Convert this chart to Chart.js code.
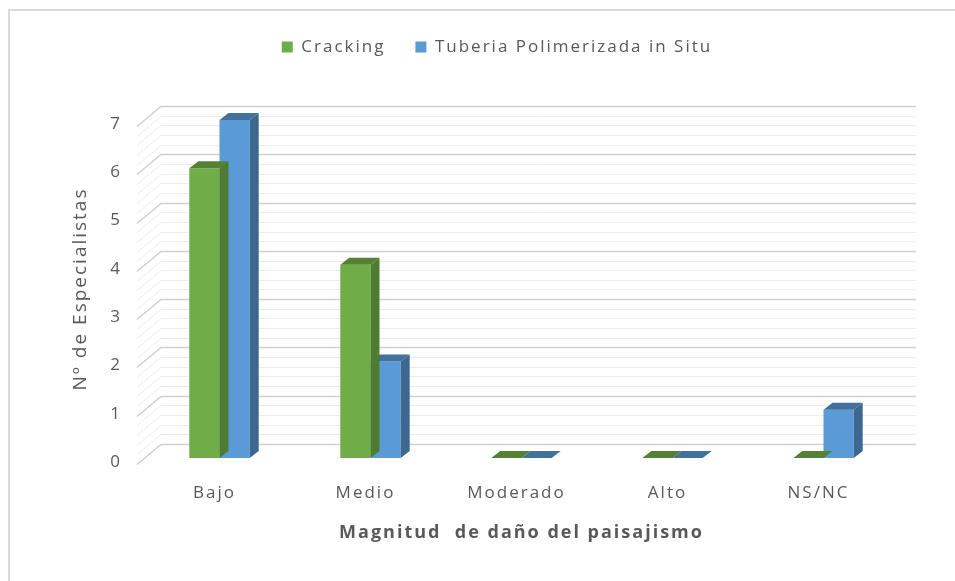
<!DOCTYPE html>
<html>
<head>
<meta charset="utf-8">
<script src="https://cdn.jsdelivr.net/npm/chart.js@4.4.1/dist/chart.umd.min.js"></script>
<style>
  html, body { margin: 0; padding: 0; background: #ffffff; }
  #wrap { position: relative; width: 955px; height: 581px; overflow: hidden; }
  #frame { position: absolute; left: 8px; top: 9px; width: 2000px; height: 2000px;
           border-top: 2px solid #d9d9d9; border-left: 2px solid #d9d9d9; }
  canvas { position: absolute; left: 0; top: 0; }
</style>
</head>
<body>
<div id="wrap">
  <div id="frame"></div>
  <canvas id="c" width="955" height="581"></canvas>
</div>
<script>
// ---- data ----
const categories = ['Bajo', 'Medio', 'Moderado', 'Alto', 'NS/NC'];
const crackingValues = [6, 4, 0, 0, 0];
const tuberiaValues = [7, 2, 0, 0, 1];
const seriesNames = ['Cracking', 'Tuberia Polimerizada in Situ'];
const yTicks = [0, 1, 2, 3, 4, 5, 6, 7];
const xAxisTitle = 'Magnitud  de daño del paisajismo';
const yAxisTitle = 'Nº de Especialistas';

// ---- styles ----
const TEXT = '#595959';
const FONT = "'Open Sans', 'Liberation Sans', sans-serif";
const faceColors = [
  { front: '#70AD47', top: '#548235', side: '#4E7C31' },
  { front: '#5B9BD5', top: '#41719C', side: '#3B6791' }
];
const BAR_DX = 9, BAR_DY = -7;     // bar depth
const BACK_DX = 17, BACK_DY = -14; // back wall relative to bar plane
const FRONT_DX = -7, FRONT_DY = 6; // front edge of side wall relative to bar plane

const spacingPlugin = {
  id: 'spacing',
  afterInit(chart) { chart.ctx.letterSpacing = '2px'; }
};

const wallPlugin = {
  id: 'wall3d',
  beforeDatasetsDraw(chart) {
    const { ctx, chartArea } = chart;
    const y = chart.scales.y;
    const left = chartArea.left, right = chartArea.right;
    ctx.save();
    for (let i = 0; i <= 35; i++) {
      const v = i / 5;
      const major = (i % 5 === 0);
      const py = Math.round(y.getPixelForValue(v)) + 0.5;
      ctx.strokeStyle = major ? '#d0d0d0' : '#ececec';
      ctx.lineWidth = major ? 1.5 : 1;
      ctx.beginPath();
      ctx.moveTo(left + FRONT_DX, py + FRONT_DY);
      ctx.lineTo(left + BACK_DX, py + BACK_DY);
      ctx.lineTo(right + BACK_DX, py + BACK_DY);
      ctx.stroke();
    }
    ctx.restore();
  },
  afterDatasetDraw(chart, args) {
    const { ctx } = chart;
    const meta = args.meta;
    const col = faceColors[args.index];
    ctx.save();
    meta.data.forEach(bar => {
      const p = bar.getProps(['x', 'y', 'base', 'width'], true);
      const l = p.x - p.width / 2, r = p.x + p.width / 2;
      const top = Math.min(p.y, p.base), base = Math.max(p.y, p.base);
      ctx.fillStyle = col.top;
      ctx.beginPath();
      ctx.moveTo(l, top);
      ctx.lineTo(l + BAR_DX, top + BAR_DY);
      ctx.lineTo(r + BAR_DX, top + BAR_DY);
      ctx.lineTo(r, top);
      ctx.closePath();
      ctx.fill();
      if (base - top > 0.5) {
        ctx.fillStyle = col.side;
        ctx.beginPath();
        ctx.moveTo(r, top);
        ctx.lineTo(r + BAR_DX, top + BAR_DY);
        ctx.lineTo(r + BAR_DX, base + BAR_DY);
        ctx.lineTo(r, base);
        ctx.closePath();
        ctx.fill();
      }
    });
    ctx.restore();
  }
};

const chart = new Chart(document.getElementById('c'), {
  type: 'bar',
  data: {
    labels: categories,
    datasets: [
      { label: seriesNames[0], data: crackingValues, backgroundColor: faceColors[0].front, borderWidth: 0 },
      { label: seriesNames[1], data: tuberiaValues, backgroundColor: faceColors[1].front, borderWidth: 0 }
    ]
  },
  options: {
    responsive: false,
    animation: false,
    devicePixelRatio: 1,
    layout: { padding: { left: 95, right: 56, top: 8.5, bottom: 0 } },
    datasets: { bar: { categoryPercentage: 0.4, barPercentage: 1.0 } },
    plugins: {
      legend: {
        position: 'top',
        labels: { font: { family: FONT, size: 17 }, color: TEXT, boxWidth: 11, boxHeight: 11, padding: 30 }
      },
      subtitle: { display: true, text: '', weight: 500, font: { size: 10 }, padding: { top: 42.5, bottom: 0 } },
      tooltip: { enabled: false }
    },
    scales: {
      x: {
        grid: { display: false, drawTicks: false },
        border: { display: false },
        ticks: { font: { family: FONT, size: 17 }, color: TEXT, padding: 25, labelOffset: -5, maxRotation: 0 },
        title: { display: true, text: xAxisTitle, color: TEXT, font: { family: FONT, size: 18, weight: 'bold' }, padding: { top: 0, bottom: 37 } },
        afterFit(s) { s.height = 123; }
      },
      y: {
        min: 0, max: 7,
        afterBuildTicks(s) { s.ticks = yTicks.map(v => ({ value: v })); },
        grid: { display: false, drawTicks: false },
        border: { display: false },
        ticks: { font: { family: FONT, size: 17 }, color: TEXT, padding: 22, labelOffset: 4 },
        title: { display: true, text: yAxisTitle, color: TEXT, font: { family: FONT, size: 19 }, padding: { top: -26, bottom: 0 } },
        afterFit(s) { s.width = 49; }
      }
    }
  },
  plugins: [spacingPlugin, wallPlugin]
});
</script>
</body>
</html>
